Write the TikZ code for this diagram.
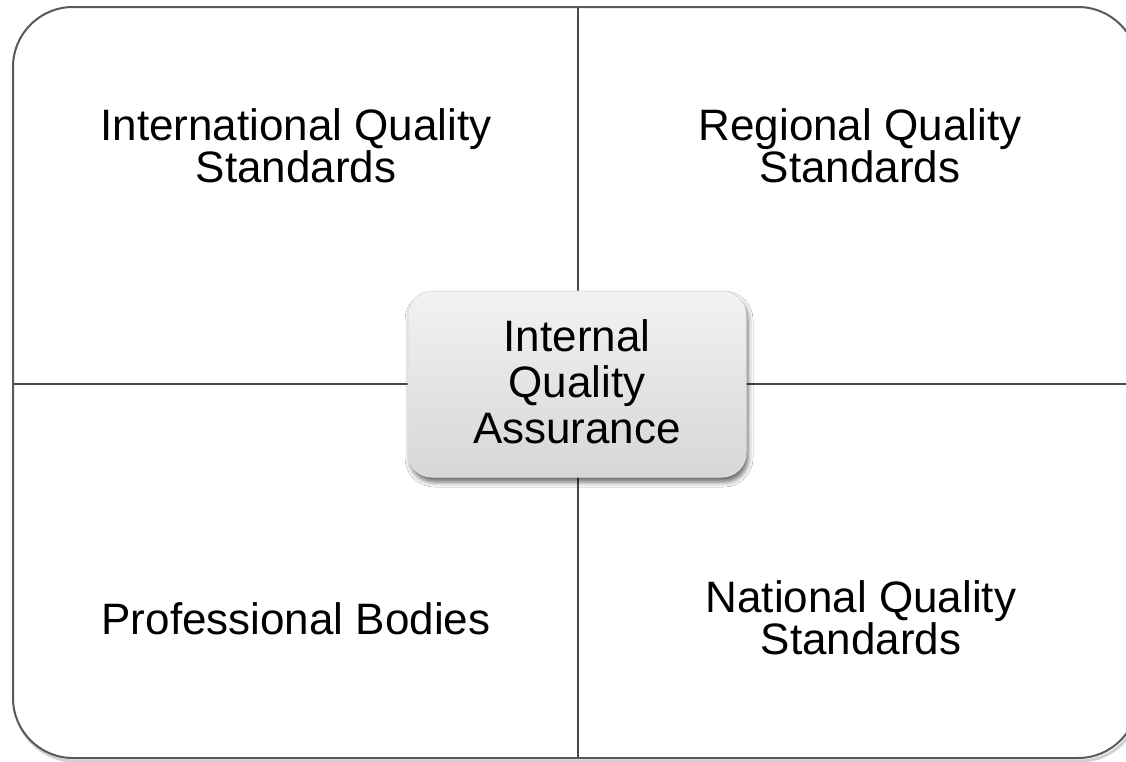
\documentclass[tikz,border=0pt]{standalone}
\usepackage{fontspec}
\setmainfont{Liberation Sans}
\usetikzlibrary{shadows.blur}
\tikzset{
  divider/.style={draw=black!72, line width=1.7pt},
  frameline/.style={draw=black!65, line width=2pt},
  lbl/.style={align=center, font=\fontsize{44}{42}\selectfont, text=black, inner sep=0pt},
  centerbox/.style={draw=white!88!black, line width=1pt, rounded corners=24pt,
     top color=white!95!black, bottom color=white!84!black,
     blur shadow={shadow xshift=2pt, shadow yshift=-5pt, shadow blur radius=5pt, shadow opacity=60},
     minimum width=338pt, minimum height=186pt, inner sep=0pt},
  centertext/.style={align=center, font=\fontsize{44}{46}\selectfont, inner sep=0pt}
}
\begin{document}
\begin{tikzpicture}[x=1pt,y=-1pt]
\useasboundingbox (0,0) rectangle (1126,761);
\fill[white] (0,0) rectangle (1126,761);
\begin{scope}
\clip (0,0) rectangle (1126,761);
% frame shadow
\draw[black!18, line width=3pt, rounded corners=60pt] (15,10) rectangle (1140,761);
\draw[frameline, rounded corners=60pt, fill=white] (13,7) rectangle (1138,758);
\end{scope}
\coordinate (vtop) at (578,8);
\coordinate (vbot) at (578,757);
\coordinate (hleft) at (14,384);
\coordinate (hright) at (1126,384);
\draw[divider] (vtop) -- (vbot);
\draw[divider] (hleft) -- (hright);
% center box
\node[centerbox] (iqa) at (577,384) {};
\node[centertext] (iqat) at (577,382) {Internal\\Quality\\Assurance};
% quadrant labels
\node[lbl] (l1) at (296,146) {International Quality\\Standards};
\node[lbl] (l2) at (860,146) {Regional Quality\\Standards};
\node[lbl] (l3) at (296,619) {Professional Bodies};
\node[lbl] (l4) at (861,617.5) {National Quality\\Standards};
\end{tikzpicture}
\end{document}
